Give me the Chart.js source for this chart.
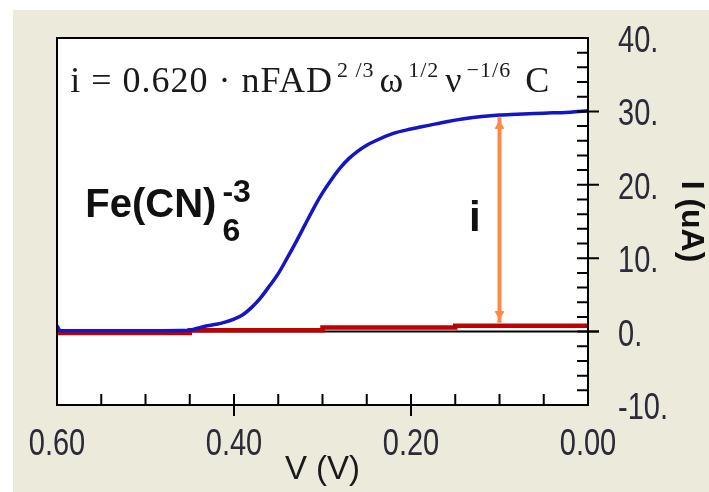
<!DOCTYPE html>
<html>
<head>
<meta charset="utf-8">
<script src="https://cdn.jsdelivr.net/npm/chart.js@4.4.1/dist/chart.umd.min.js"></script>
<style>
  html, body { margin: 0; padding: 0; background: #fff; }
  #wrap { position: absolute; left: 13px; top: 10px; width: 696px; height: 482px; background: #eceadb; }
</style>
</head>
<body>
<div id="wrap"><canvas id="rdeChart" width="696" height="482"></canvas></div>
<script>
// ferricyanide limiting-current sweep (V vs I in uA)
const sweepV = [0.600, 0.596, 0.55, 0.50, 0.46, 0.45, 0.44, 0.43, 0.42, 0.41, 0.40, 0.39, 0.38, 0.37,
  0.36, 0.35, 0.34, 0.33, 0.32, 0.31, 0.30, 0.29, 0.28, 0.27, 0.26, 0.25, 0.24, 0.22, 0.20,
  0.18, 0.16, 0.14, 0.12, 0.10, 0.08, 0.06, 0.04, 0.02, 0.00];
const sweepI = [0.8, 0.1, 0.1, 0.1, 0.15, 0.2, 0.5, 0.8, 1.0, 1.3, 1.7, 2.3, 3.3, 4.6,
  6.2, 7.9, 10.0, 12.2, 14.5, 16.8, 18.9, 20.7, 22.3, 23.6, 24.6, 25.4, 26.0, 27.0, 27.6,
  28.1, 28.6, 29.0, 29.3, 29.5, 29.6, 29.7, 29.8, 29.9, 30.1];

// background (blank electrolyte) current
const blankV = [0.60, 0.45, 0.30, 0.15, 0.00];
const blankI = [-0.2, 0.2, 0.55, 0.8, 0.8];

// limiting current marker
const arrowV = [0.10, 0.10];
const arrowI = [1.2, 29.2];
const headI = [2.4, 28.0];

const xTickLabels = ["0.00", "0.20", "0.40", "0.60"];
const yTickLabels = ["-10.", "0.", "10.", "20.", "30.", "40."];

const sans = '"Liberation Sans", Arial, sans-serif';
const serif = '"Liberation Serif", "Times New Roman", serif';

// tick labels are tall and narrow in the original, so they are drawn stretched
function tallText(ctx, text, x, y, align) {
  ctx.save();
  ctx.translate(x, y);
  ctx.scale(1, 1.28);
  ctx.textAlign = align;
  ctx.textBaseline = 'alphabetic';
  ctx.fillText(text, 0, 0);
  ctx.restore();
}

const frame = {
  id: 'frame',
  beforeDraw(chart) {
    const { ctx, chartArea: a } = chart;
    ctx.save();
    ctx.fillStyle = '#fff';
    ctx.fillRect(a.left, a.top, a.right - a.left, a.bottom - a.top);
    ctx.restore();
  },
  beforeDatasetsDraw(chart) {
    const { ctx, chartArea: a, scales } = chart;
    const y0 = scales.y.getPixelForValue(0);
    ctx.save();
    ctx.strokeStyle = '#000';
    ctx.lineWidth = 2;
    ctx.beginPath();
    ctx.moveTo(a.left, y0);
    ctx.lineTo(a.right + 11, y0);
    ctx.stroke();
    ctx.restore();
  },
  afterDatasetsDraw(chart) {
    const { ctx, chartArea: a, scales } = chart;
    ctx.save();
    ctx.strokeStyle = '#000';
    ctx.lineWidth = 2;
    ctx.strokeRect(a.left, a.top, a.right - a.left, a.bottom - a.top);
    ctx.beginPath();
    for (let k = 1; k < 12; k++) {
      const px = scales.x.getPixelForValue(k * 0.05);
      const major = k % 4 === 0;
      ctx.moveTo(px, a.bottom - 11);
      ctx.lineTo(px, a.bottom + (major ? 11 : 0));
    }
    for (let v = -8; v < 40; v += 2) {
      const py = scales.y.getPixelForValue(v);
      const major = v % 10 === 0;
      ctx.moveTo(a.right - 11, py);
      ctx.lineTo(a.right + (major ? 11 : 0), py);
    }
    ctx.stroke();

    // tick labels
    ctx.fillStyle = '#2a2a38';
    ctx.font = '29px ' + sans;
    scales.x.ticks.forEach(t => {
      const label = xTickLabels.find(s => Math.abs(parseFloat(s) - t.value) < 1e-6);
      tallText(ctx, label, scales.x.getPixelForValue(t.value), a.bottom + 50, 'center');
    });
    scales.y.ticks.forEach(t => {
      const label = yTickLabels.find(s => parseFloat(s) === t.value);
      tallText(ctx, label, a.right + 30, scales.y.getPixelForValue(t.value) + 14, 'left');
    });
    ctx.restore();
  },
  afterDraw(chart) {
    const { ctx, scales } = chart;
    const X = v => scales.x.getPixelForValue(v);
    const Y = v => scales.y.getPixelForValue(v);
    ctx.save();
    ctx.fillStyle = '#111';
    ctx.textBaseline = 'alphabetic';
    ctx.textAlign = 'left';

    // species label
    ctx.font = 'bold 40px ' + sans;
    ctx.fillText('Fe(CN)', X(0.568), Y(15.6));
    const fx = X(0.568) + ctx.measureText('Fe(CN)').width + 6;
    ctx.font = 'bold 32px ' + sans;
    ctx.fillText('6', fx, Y(12.3));
    ctx.fillText('-3', fx, Y(17.6));

    // current marker label
    ctx.font = 'bold 42px ' + sans;
    ctx.textAlign = 'center';
    ctx.fillText('i', X(0.128), Y(13.7));

    // Levich equation
    ctx.textAlign = 'left';
    ctx.fillStyle = '#1a1a1a';
    const parts = [['i = 0.620 · nFAD', false, 0], ['2 /3', true, 4], ['ω', false, 5], ['1/2', true, 4],
      ['ν', false, 6], ['−1/6', true, 4], ['C', false, 14]];
    let px = X(0.585);
    const base = Y(32.6);
    ctx.letterSpacing = '1px';
    parts.forEach(([t, sup, gap]) => {
      px += gap;
      ctx.font = (sup ? '22px ' : '36px ') + serif;
      ctx.fillText(t, px, sup ? base - 15 : base);
      px += ctx.measureText(t).width;
    });
    ctx.restore();
  }
};

new Chart(document.getElementById('rdeChart'), {
  type: 'line',
  data: {
    datasets: [
      {
        label: 'Fe(CN)6',
        data: sweepV.map((v, i) => ({ x: v, y: sweepI[i] })),
        borderColor: '#1414c8',
        borderWidth: 3.5,
        pointRadius: 0,
        cubicInterpolationMode: 'monotone'
      },
      {
        label: 'blank',
        data: blankV.map((v, i) => ({ x: v, y: blankI[i] })),
        borderColor: '#c00000',
        borderWidth: 4.5,
        pointRadius: 0,
        stepped: 'before'
      },
      {
        label: 'i',
        data: arrowV.map((v, i) => ({ x: v, y: arrowI[i] })),
        borderColor: '#ff8a45',
        borderWidth: 4,
        pointRadius: 0
      },
      {
        label: 'heads',
        data: arrowV.map((v, i) => ({ x: v, y: headI[i] })),
        showLine: false,
        pointStyle: 'triangle',
        pointRadius: 5,
        pointRotation: [180, 0],
        pointBackgroundColor: '#ff8a45',
        pointBorderColor: '#ff8a45'
      }
    ]
  },
  options: {
    responsive: false,
    animation: false,
    layout: { padding: { left: 44, top: 28, right: 0, bottom: 0 } },
    plugins: { legend: { display: false }, tooltip: { enabled: false } },
    scales: {
      x: {
        type: 'linear',
        position: 'bottom',
        min: 0,
        max: 0.6,
        reverse: true,
        grid: { display: false },
        border: { display: false },
        afterBuildTicks: s => { s.ticks = xTickLabels.map(t => ({ value: parseFloat(t) })); },
        ticks: { display: false },
        title: {
          display: true,
          text: 'V (V)',
          color: '#1a1a1a',
          font: { family: sans, size: 33 },
          padding: { top: 2, bottom: 2 }
        },
        afterFit: s => { s.height = 87; s.paddingLeft = 0; s.paddingRight = 0; }
      },
      y: {
        type: 'linear',
        position: 'right',
        min: -10,
        max: 40,
        grid: { display: false },
        border: { display: false },
        afterBuildTicks: s => { s.ticks = yTickLabels.map(t => ({ value: parseFloat(t) })); },
        ticks: { display: false },
        title: {
          display: true,
          text: 'I (uA)',
          color: '#111',
          font: { family: sans, size: 32, weight: 'bold' },
          padding: { top: -1, bottom: -1 }
        },
        afterFit: s => { s.width = 121; s.paddingTop = 0; s.paddingBottom = 0; }
      }
    }
  },
  plugins: [frame]
});
</script>
</body>
</html>
